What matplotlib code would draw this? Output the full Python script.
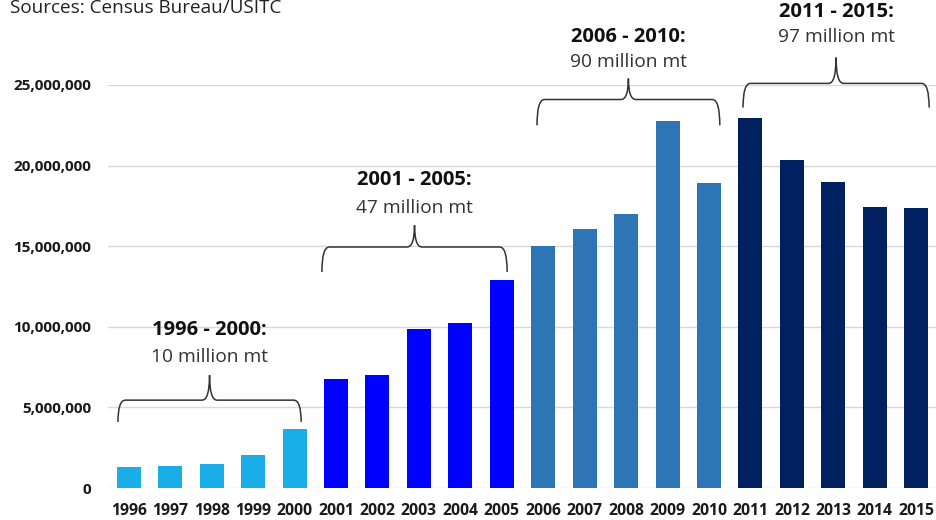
import matplotlib
matplotlib.use("Agg")
import matplotlib.pyplot as plt
from matplotlib.path import Path
from matplotlib.patches import PathPatch
from matplotlib.ticker import FuncFormatter

years = [str(y) for y in range(1996, 2016)]
values = [1.30e6, 1.36e6, 1.49e6, 2.05e6, 3.66e6,
          6.76e6, 7.01e6, 9.86e6, 10.24e6, 12.90e6,
          15.00e6, 16.07e6, 17.00e6, 22.77e6, 18.92e6,
          22.95e6, 20.35e6, 18.98e6, 17.43e6, 17.37e6]
group_colors = ["#1AADE8", "#0000FF", "#2E75B6", "#002060"]
group_titles = ["1996 - 2000:", "2001 - 2005:", "2006 - 2010:", "2011 - 2015:"]
group_totals = ["10 million mt", "47 million mt", "90 million mt", "97 million mt"]
yticks = [0, 5e6, 10e6, 15e6, 20e6, 25e6]

plt.rcParams['font.family'] = ['Open Sans', 'DejaVu Sans']

fig = plt.figure(figsize=(9.37, 5.2), dpi=100)
ax = fig.add_axes([108/937, 32/520, 829/937, 403/520])

colors = [group_colors[i // 5] for i in range(len(years))]
x = list(range(len(years)))
ax.bar(x, values, width=0.58, color=colors, zorder=3)

ax.set_xlim(-0.5, len(years) - 0.5)
ax.set_ylim(0, 25e6)
ax.set_yticks(yticks)
ax.yaxis.set_major_formatter(FuncFormatter(lambda v, p: f"{int(v):,}"))
ax.set_xticks(x)
ax.set_xticklabels(years)
for lab in ax.get_xticklabels():
    lab.set_fontweight('bold')
    lab.set_fontsize(11.3)
    lab.set_color('#1a1a1a')
for lab in ax.get_yticklabels():
    lab.set_fontweight('bold')
    lab.set_fontsize(11)
    lab.set_color('#1a1a1a')
ax.tick_params(axis='both', length=0)
ax.tick_params(axis='y', pad=12)
ax.tick_params(axis='x', pad=11)
ax.grid(axis='y', color='#D9D9D9', linewidth=1, zorder=0)
for s in ax.spines.values():
    s.set_visible(False)


def brace(ax, x0, x1, ytip, ymid, ypeak):
    xm = (x0 + x1) / 2
    rx = 0.18
    verts = [
        (x0, ytip), (x0, ymid), (x0 + rx, ymid),
        (xm - rx, ymid), (xm, ymid), (xm, ypeak),
        (xm, ymid), (xm + rx, ymid),
        (x1 - rx, ymid), (x1, ymid), (x1, ytip),
    ]
    codes = [Path.MOVETO, Path.CURVE3, Path.CURVE3,
             Path.LINETO, Path.CURVE3, Path.CURVE3,
             Path.CURVE3, Path.CURVE3,
             Path.LINETO, Path.CURVE3, Path.CURVE3]
    p = PathPatch(Path(verts, codes), fill=False, edgecolor='#333333',
                  linewidth=1.1, clip_on=False, zorder=4)
    ax.add_patch(p)


# brace geometry per group (tip, mid, peak, total-label, title-label) in data units
brace_y = [
    (4.1e6, 5.45e6, 7.0e6, 8.1e6, 9.8e6),
    (13.4e6, 14.95e6, 16.3e6, 17.4e6, 19.1e6),
    (22.5e6, 24.1e6, 25.4e6, 26.4e6, 28.0e6),
    (23.6e6, 25.1e6, 26.7e6, 27.95e6, 29.55e6),
]
offs = [(-0.26, 0.16), (-0.34, 0.13), (-0.15, 0.26), (-0.18, 0.31)]
for g in range(4):
    i0 = g * 5
    i1 = g * 5 + 4
    x0 = i0 + offs[g][0]
    x1 = i1 + offs[g][1]
    ytip, ymid, ypeak, ytot, ytitle = brace_y[g]
    brace(ax, x0, x1, ytip, ymid, ypeak)
    xm = (x0 + x1) / 2
    ax.text(xm, ytot, group_totals[g], ha='center', va='center', fontsize=13.8,
            color='#333333', clip_on=False)
    ax.text(xm, ytitle, group_titles[g], ha='center', va='center', fontsize=14.5,
            fontweight='bold', color='#111111', clip_on=False)

fig.text(10/937, 1 - 8/520, "Sources: Census Bureau/USITC", ha='left', va='center',
         fontsize=13.6, color='#222222')

fig.savefig("out.png", dpi=100)
